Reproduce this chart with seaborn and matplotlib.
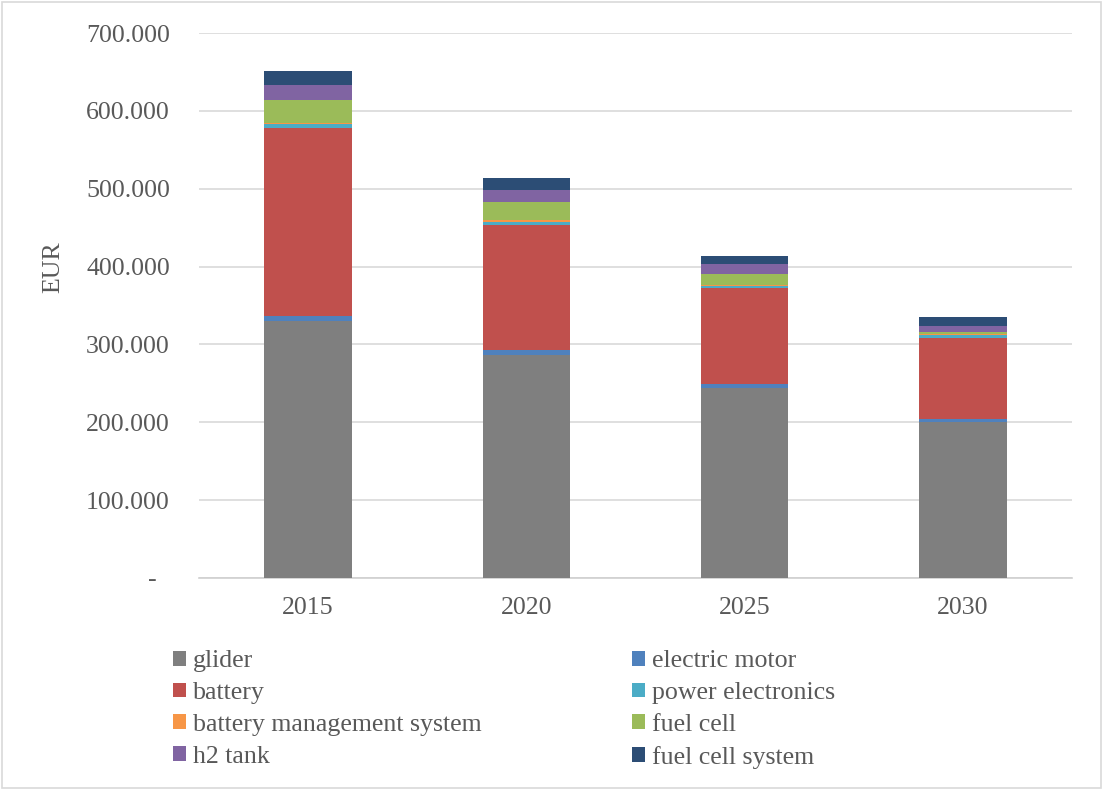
import numpy as np
import pandas as pd
import matplotlib
matplotlib.use("Agg")
import matplotlib.pyplot as plt
from matplotlib.patches import Patch, Rectangle
from matplotlib.ticker import FuncFormatter
import seaborn as sns

# Cost breakdown per vehicle (EUR), stacked from bottom to top
years = ["2015", "2020", "2025", "2030"]
components = ["glider", "electric motor", "battery", "power electronics",
              "battery management system", "fuel cell", "h2 tank", "fuel cell system"]
glider = [330000, 287000, 244000, 200000]
electric_motor = [6500, 5500, 5000, 4700]
battery = [241500, 160500, 124000, 103500]
power_electronics = [5000, 4600, 2300, 3600]
battery_management_system = [1700, 2200, 1500, 2200]
fuel_cell = [29000, 22700, 14000, 2600]
h2_tank = [20000, 15800, 12000, 6800]
fuel_cell_system = [17500, 15400, 10300, 11600]

colors = {
    "glider": "#7f7f7f",
    "electric motor": "#4f81bd",
    "battery": "#c0504d",
    "power electronics": "#4bacc6",
    "battery management system": "#f79646",
    "fuel cell": "#9bbb59",
    "h2 tank": "#8064a2",
    "fuel cell system": "#2c4d75",
}

series = [glider, electric_motor, battery, power_electronics,
          battery_management_system, fuel_cell, h2_tank, fuel_cell_system]
df = pd.DataFrame({name: vals for name, vals in zip(components, series)}, index=years)
cum = df.cumsum(axis=1)

sns.set_theme(style="white")
plt.rcParams["font.family"] = ["Liberation Serif", "DejaVu Serif"]
text_color = "#595959"
fs = 18.6

fig = plt.figure(figsize=(11.03, 7.90), dpi=100)
ax = fig.add_axes([199 / 1103, 1 - 578 / 790, 873 / 1103, 545 / 790])

# Stacked bars: draw cumulative totals from the top layer downward
for name in reversed(components):
    d = pd.DataFrame({"year": years, "value": cum[name].values})
    sns.barplot(data=d, x="year", y="value", color=colors[name], width=0.4,
                saturation=1, ax=ax, zorder=3, linewidth=0)

ax.set_xlim(-0.5, 3.5)
ax.set_ylim(0, 700000)
ax.set_yticks(np.arange(0, 700001, 100000))


def fmt(v, pos):
    if v == 0:
        return "-  "
    return f"{int(v):,}".replace(",", ".")


ax.yaxis.set_major_formatter(FuncFormatter(fmt))
ax.grid(axis="y", color="#d9d9d9", linewidth=1.2, zorder=0)
ax.grid(axis="x", visible=False)
for s in ["top", "right", "left"]:
    ax.spines[s].set_visible(False)
ax.spines["bottom"].set_color("#d0d0d0")
ax.spines["bottom"].set_linewidth(1.2)
ax.tick_params(axis="y", length=0, pad=21, labelsize=fs, labelcolor=text_color)
ax.tick_params(axis="x", length=0, pad=14, labelsize=fs, labelcolor=text_color)
ax.set_xlabel("")
ax.set_ylabel("")
fig.text(53 / 1103, 1 - 267 / 790, "EUR", rotation=90, ha="center", va="center",
         fontsize=fs, color=text_color)

# Legend in two columns below the plot
left_items = ["glider", "battery", "battery management system", "h2 tank"]
right_items = ["electric motor", "power electronics", "fuel cell", "fuel cell system"]
for items, xpos in [(left_items, 163 / 1103), (right_items, 622 / 1103)]:
    handles = [Patch(facecolor=colors[n], edgecolor="none", label=n) for n in items]
    leg = fig.legend(handles=handles, loc="upper left", bbox_to_anchor=(xpos, 1 - 640 / 790),
                     frameon=False, fontsize=fs, handlelength=0.5, handleheight=0.5,
                     handletextpad=0.25, labelspacing=0.38, borderaxespad=0)
    for t in leg.get_texts():
        t.set_color(text_color)

fig.patches.append(Rectangle((0.002, 0.002), 0.996, 0.996, transform=fig.transFigure,
                             fill=False, edgecolor="#d9d9d9", linewidth=1.2))

fig.savefig("out.png", dpi=100)
